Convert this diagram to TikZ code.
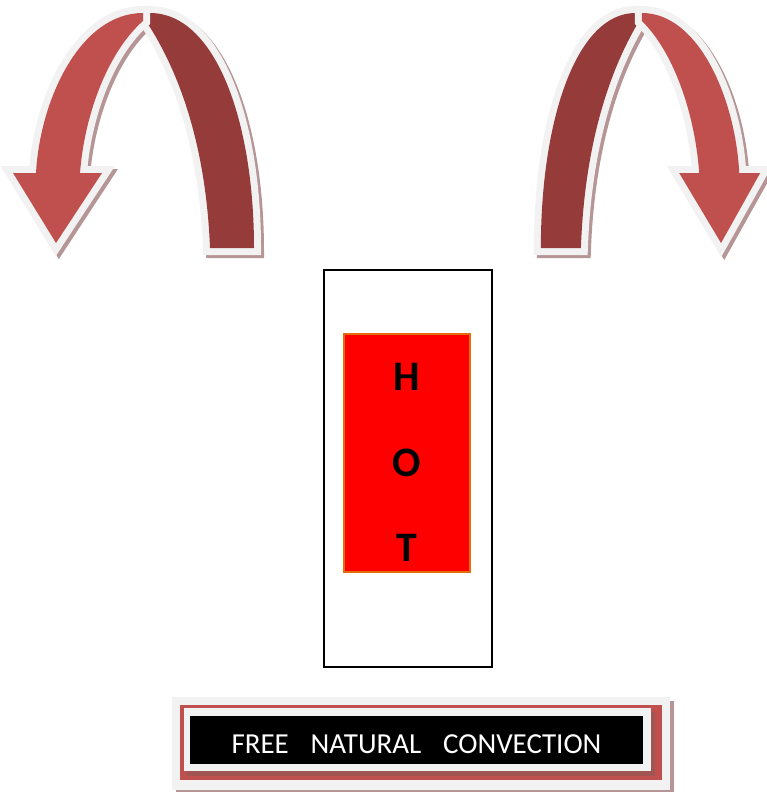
\documentclass[tikz,border=0pt]{standalone}
\usepackage{fontspec}
\setmainfont{Carlito}
\usetikzlibrary{positioning}
\definecolor{arrowlight}{HTML}{C0504D}
\definecolor{arrowdark}{HTML}{953C3A}
\definecolor{rimwhite}{HTML}{F2F2F2}
\definecolor{shademauve}{HTML}{B59595}
\definecolor{shadered}{HTML}{A05553}
\definecolor{hotred}{HTML}{FF0000}
\definecolor{hotedge}{HTML}{E46C0A}
\tikzset{
  darkband/.style={insert path={(150,13) .. controls (215,13) and (254,120) .. (254,248) -- (210,248) .. controls (205,120) and (165,50) .. (146,21) -- cycle}},
  lightband/.style={insert path={(143,13) .. controls (80,13) and (40,100) .. (36,173) -- (13,173) -- (56,243) -- (102,173) -- (80,173) .. controls (85,110) and (110,50) .. (143,21) -- cycle}},
  rim/.style={draw=rimwhite, line width=14pt, line join=miter},
  shade/.style={fill=shademauve, draw=shademauve, line width=14pt, line join=miter},
  pics/convarrow/.style={code={
    \path[shade, shift={(#1,3)}, darkband];
    \path[shade, shift={(#1,3)}, lightband];
    \path[rim, darkband];
    \fill[arrowdark, darkband];
    \path[rim, lightband];
    \fill[arrowlight, lightband];
  }},
  casebox/.style={draw, line width=1.5pt, minimum width=168, minimum height=397, inner sep=0pt},
  hotbox/.style={fill=hotred, draw=hotedge, line width=1.5pt, minimum width=126, minimum height=238, inner sep=0pt},
  hotletter/.style={font=\fontsize{42}{46}\selectfont\bfseries, inner sep=0pt},
  capbox/.style={fill=black, minimum width=453, minimum height=48, inner sep=0pt},
  captext/.style={text=white, inner sep=0pt, font=\fontsize{29}{34}\selectfont}
}
\begin{document}
\begin{tikzpicture}[x=1pt, y=-1pt]
\useasboundingbox (0,0) rectangle (767,792);
% rising air, left and right
\pic at (0,0) {convarrow=3};
\pic[xscale=-0.91] at (772,0) {convarrow=-3.3};
% plate
\node[casebox] (case) at (408,468.5) {};
\node[hotbox] (heater) at (407,453) {};
\node[hotletter] (lh) at (407,377) {H};
\node[hotletter] (lo) at (407,463) {O};
\node[hotletter] (lt) at (407,548) {T};
% caption frame
\fill[shademauve] (176,701) rectangle (674,794);
\fill[rimwhite] (172,697) rectangle (670,790);
\fill[arrowlight] (180,705) rectangle (662,780);
\fill[shadered] (187,712) rectangle (655,776);
\fill[rimwhite] (184,708) rectangle (651,771);
\node[capbox] (band) at (416.5,740) {};
\node[captext] (caption) at ([yshift=-4pt]band.center) {FREE\hspace{0.75em}NATURAL\hspace{0.75em}CONVECTION};
\end{tikzpicture}
\end{document}
